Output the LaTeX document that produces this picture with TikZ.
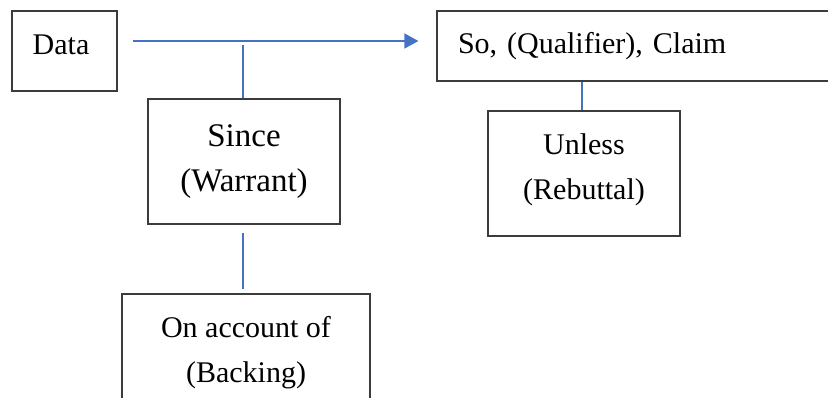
\documentclass[tikz,border=0pt]{standalone}
\usepackage{fontspec}
\setmainfont{Liberation Serif}
\usetikzlibrary{arrows.meta}
\definecolor{boxline}{HTML}{3C3C3C}
\definecolor{linkblue}{HTML}{4472C4}
\tikzset{
  box/.style={draw=boxline, line width=1.2pt, fill=white, inner sep=0pt,
    align=center, font=\fontsize{30}{45}\selectfont},
  link/.style={draw=linkblue, line width=1.5pt},
}
\begin{document}
\begin{tikzpicture}[x=1pt, y=-1pt]
  \useasboundingbox (0,0) rectangle (828,398);
  \clip (0,0) rectangle (828,398);

  % the five boxes of the argument
  \node[box, minimum width=105pt, minimum height=80pt, text depth=13pt] (data)
        at (64.5,51) {Data\hspace{7pt}};
  \node[box, minimum width=403pt, minimum height=70pt, text width=361pt,
        align=left] (claim) at (638.5,46) {So, (Qualifier), Claim};
  \node[box, minimum width=192pt, minimum height=125pt,
        font=\fontsize{33}{45}\selectfont] (since) at (244,161.5) {Since\\(Warrant)};
  \node[box, minimum width=192pt, minimum height=125pt, text depth=14pt] (unless)
        at (584,173.5) {Unless\\(Rebuttal)};
  \node[box, minimum width=248pt, minimum height=118pt] (backing) at (246,353)
        {On account of\\(Backing)};

  % connectors
  \coordinate (dstart) at (133,41);
  \draw[link, -{Triangle[length=14pt, width=15pt]}, shorten >=18pt]
    (dstart) -- (claim.west |- dstart);
  \draw[link, shorten >=4pt] (since.north -| 243,0) -- (243,41);
  \draw[link, shorten <=8pt, shorten >=4pt] (since.south -| 243,0) -- (backing.north -| 243,0);
  \draw[link] (unless.north -| 582,0) -- (claim.south -| 582,0);
\end{tikzpicture}
\end{document}
